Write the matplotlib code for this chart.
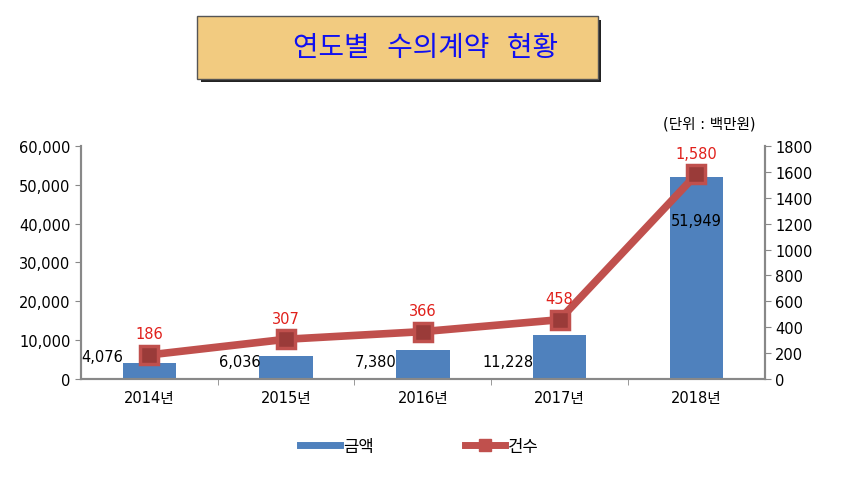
import matplotlib
matplotlib.use("Agg")
import matplotlib.pyplot as plt
from matplotlib.patches import Rectangle
from matplotlib.lines import Line2D

plt.rcParams['font.family'] = ['DejaVu Sans', 'Noto Sans CJK KR']

years = ["2014년", "2015년", "2016년", "2017년", "2018년"]
amount = [4076, 6036, 7380, 11228, 51949]   # 금액 (백만원)
count = [186, 307, 366, 458, 1580]          # 건수

bar_c = "#4F81BD"
line_c = "#C0504D"

fig = plt.figure(figsize=(8.44, 4.85), dpi=100)
ax = fig.add_axes([0.096, 0.2165, 0.81, 0.4805])
ax2 = ax.twinx()

x = list(range(len(years)))
ax.bar(x, amount, width=0.39, color=bar_c, zorder=2)
ax.set_xlim(-0.5, 4.5)
ax.set_ylim(0, 60000)
ax.set_yticks(range(0, 60001, 10000))
ax.set_yticklabels([f"{v:,}" for v in range(0, 60001, 10000)], fontsize=10.5)
ax.set_xticks(x)
ax.set_xticklabels(years, fontsize=10.5)
ax.tick_params(axis="x", length=0, pad=8)
ax.set_xticks([i + 0.5 for i in x[:-1]], minor=True)
ax.tick_params(axis="x", which="minor", length=4, color="#888888")
ax.tick_params(axis="y", length=4, color="#888888", direction="out")

ax2.set_ylim(0, 1800)
ax2.set_yticks(range(0, 1801, 200))
ax2.set_yticklabels([str(v) for v in range(0, 1801, 200)], fontsize=10.5)
ax2.tick_params(axis="y", length=4, color="#888888", direction="out")

for a in (ax, ax2):
    a.spines["top"].set_visible(False)
    for s in ("left", "right", "bottom"):
        a.spines[s].set_color("#888888")
        a.spines[s].set_linewidth(1.5)

ax2.plot(x, count, color=line_c, lw=5.5, marker="s", markersize=13,
         markerfacecolor="#9A3B39", markeredgecolor=line_c, markeredgewidth=2.5,
         zorder=3, solid_capstyle="butt")

# bar value labels
label_y = [5900, 4600, 4600, 4600, 40700]
for i, v in enumerate(amount):
    if i == len(amount) - 1:
        ax.text(i, label_y[i], f"{v:,}", ha="center", va="center", fontsize=10.5, zorder=4)
    else:
        ax.text(i - 0.19, label_y[i], f"{v:,}", ha="right", va="center", fontsize=10.5, zorder=4)

# line value labels
for i, v in enumerate(count):
    ax2.text(i, v + 105, f"{v:,}", ha="center", va="bottom", fontsize=10.5, color="#E0201B", zorder=4)

# title box
fig.patches.append(Rectangle((0.238, 0.828), 0.474, 0.128, transform=fig.transFigure,
                             facecolor="#222222", edgecolor="none", zorder=0))
fig.patches.append(Rectangle((0.234, 0.836), 0.474, 0.128, transform=fig.transFigure,
                             facecolor="#F2CB80", edgecolor="#555555", lw=1, zorder=1))
fig.text(0.504, 0.9, "연도별  수의계약  현황", ha="center", va="center",
         fontsize=20, color="#1010F0", zorder=2)

fig.text(0.895, 0.745, "(단위 : 백만원)", ha="right", va="center", fontsize=10.5)

handles = [Line2D([], [], color=bar_c, lw=5),
           Line2D([], [], color=line_c, lw=5, marker="s", markersize=9,
                  markerfacecolor=line_c, markeredgecolor=line_c)]
fig.legend(handles, ["금액", "건수"], loc="center", bbox_to_anchor=(0.497, 0.078),
           ncol=2, frameon=False, fontsize=12, handlelength=2.4, columnspacing=5.5,
           handletextpad=0.15)

fig.savefig("out.png", dpi=100)
